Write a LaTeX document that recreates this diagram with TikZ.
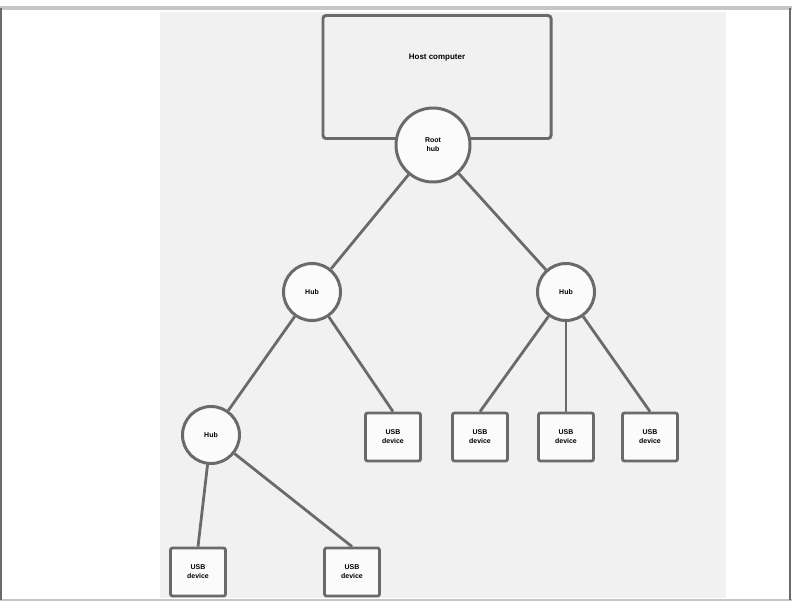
\documentclass[tikz,border=0pt]{standalone}
\usepackage{tikz}
\usepackage{xcolor}
\usepackage{fontspec}
\setsansfont{Liberation Sans}
\usetikzlibrary{positioning,arrows.meta}

\definecolor{panel}{HTML}{F1F1F1}
\definecolor{edge}{HTML}{6A6A6A}

\begin{document}
\begin{tikzpicture}[
  x=1bp, y=-1bp,
  link/.style={draw=edge, line width=2.8pt},
  hostbox/.style={rectangle, rounded corners=3pt, draw=edge, line width=3pt, fill=panel, minimum width=228bp, minimum height=123bp, font=\sffamily\bfseries\fontsize{8}{9}\selectfont, align=center, text depth=40bp},
  hub/.style={circle, draw=edge, line width=3pt, fill=gray!3, align=center, font=\sffamily\bfseries\fontsize{7}{9}\selectfont, minimum size=57bp, inner sep=0pt},
  roothub/.style={hub, minimum size=74bp},
  dev/.style={rectangle, rounded corners=2pt, draw=edge, line width=2.8pt, fill=gray!3, align=center, font=\sffamily\bfseries\fontsize{7}{9}\selectfont, minimum width=55bp, minimum height=48bp, inner sep=1pt}
]
% page and background panel
\useasboundingbox (0,0) rectangle (792,612);
\fill[white] (0,0) rectangle (792,612);
\fill[panel] (160,12) rectangle (726,598);
\draw[gray!45, line width=4pt] (0,8) -- (792,8);
\draw[gray!45, line width=3pt] (0,600) -- (792,600);
\draw[edge, line width=1.5pt] (1,8) -- (1,600);
\draw[edge, line width=1.5pt] (790,8) -- (790,600);

% nodes
\node[hostbox] (host) at (437,77) {Host computer};
\node[roothub] (root) at (433,145) {Root\\hub};

\node[hub] (hubl) at (312,292) {Hub};
\node[hub] (hubr) at (566,292) {Hub};
\node[hub] (hubll) at (211,435) {Hub};

\node[dev] (d1) at (393,437) {USB\\device};
\node[dev] (d2) at (480,437) {USB\\device};
\node[dev] (d3) at (566,437) {USB\\device};
\node[dev] (d4) at (650,437) {USB\\device};
\node[dev] (d5) at (198,572) {USB\\device};
\node[dev] (d6) at (352,572) {USB\\device};

% connections
\draw[link] (root) -- (hubl);
\draw[link] (root) -- (hubr);
\draw[link] (hubl) -- (hubll);
\draw[link] (hubl) -- (d1.north);
\draw[link] (hubr) -- (d2.north);
\draw[link] (hubr) -- (d3.north);
\draw[link] (hubr) -- (d4.north);
\draw[link] (hubll) -- (d5.north);
\draw[link] (hubll) -- (d6.north);
\end{tikzpicture}
\end{document}
